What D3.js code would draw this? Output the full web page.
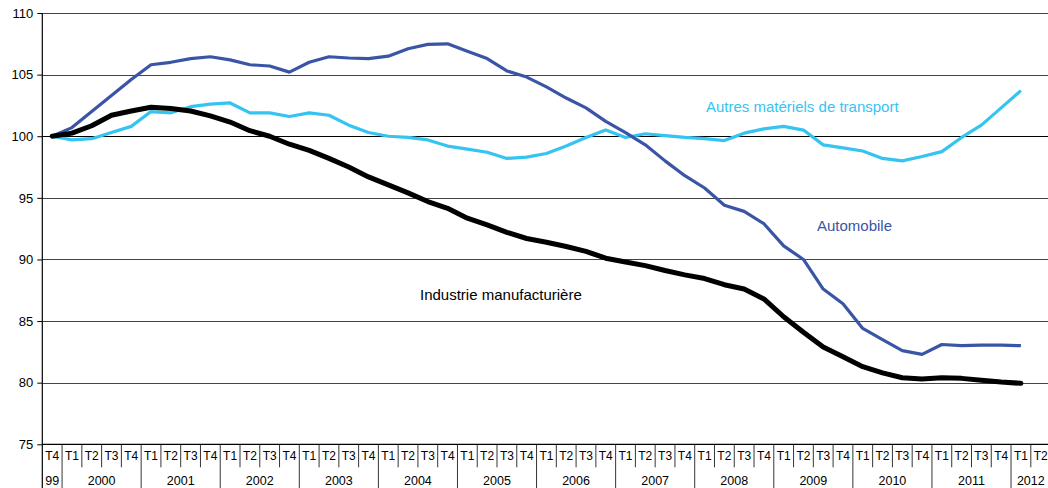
<!doctype html>
<html lang="fr">

<head>
  <meta charset="UTF-8">
  <title>Production - industrie manufacturière, automobile, autres matériels de transport</title>
  <style type="text/css">
    body { margin: 0; background: #fff; }
    text { font-family: "Liberation Sans", Arial, Helvetica, sans-serif; }
  </style>
  <script src="https://cdn.jsdelivr.net/npm/d3@7/dist/d3.min.js"></script>
</head>

<body>
  <div id="container"></div>
  <script>
    // années de l'axe et trimestres (T4 1999 -> T2 2012)
    var years = ["99", "2000", "2001", "2002", "2003", "2004", "2005", "2006", "2007", "2008", "2009", "2010", "2011", "2012"];
    var yearQuarters = [["T4"], ["T1", "T2", "T3", "T4"], ["T1", "T2", "T3", "T4"], ["T1", "T2", "T3", "T4"],
      ["T1", "T2", "T3", "T4"], ["T1", "T2", "T3", "T4"], ["T1", "T2", "T3", "T4"], ["T1", "T2", "T3", "T4"],
      ["T1", "T2", "T3", "T4"], ["T1", "T2", "T3", "T4"], ["T1", "T2", "T3", "T4"], ["T1", "T2", "T3", "T4"],
      ["T1", "T2", "T3", "T4"], ["T1", "T2"]];
    var yTicks = [75, 80, 85, 90, 95, 100, 105, 110];

    // indices base 100 au T4 1999, du T4 1999 au T1 2012
    var industrie = [100, 100.25, 100.85, 101.7, 102.05, 102.35, 102.25, 102.05, 101.65, 101.15,
      100.45, 100.0, 99.35, 98.85, 98.2, 97.5, 96.7, 96.05, 95.4, 94.7,
      94.15, 93.35, 92.8, 92.2, 91.7, 91.4, 91.05, 90.65, 90.1, 89.8,
      89.5, 89.1, 88.75, 88.45, 87.95, 87.6, 86.8, 85.35, 84.1, 82.9,
      82.1, 81.3, 80.8, 80.4, 80.3, 80.4, 80.35, 80.2, 80.05, 79.95];
    var automobile = [100, 100.7, 102.0, 103.3, 104.6, 105.8, 106.0, 106.3, 106.45, 106.2,
      105.8, 105.7, 105.2, 106.0, 106.45, 106.35, 106.3, 106.5, 107.1, 107.45,
      107.5, 106.9, 106.3, 105.3, 104.8, 104.0, 103.1, 102.3, 101.2, 100.3,
      99.3, 98.0, 96.8, 95.8, 94.4, 93.9, 92.9, 91.1, 90.0, 87.6,
      86.4, 84.4, 83.5, 82.6, 82.3, 83.1, 83.0, 83.05, 83.05, 83.0];
    var autres = [100, 99.7, 99.8, 100.3, 100.8, 102.0, 101.9, 102.4, 102.6, 102.7,
      101.9, 101.9, 101.6, 101.9, 101.7, 100.9, 100.3, 100.0, 99.9, 99.7,
      99.2, 98.95, 98.7, 98.2, 98.3, 98.6, 99.2, 99.9, 100.5, 99.9,
      100.2, 100.05, 99.9, 99.8, 99.65, 100.25, 100.6, 100.8, 100.5, 99.3,
      99.05, 98.8, 98.2, 98.0, 98.35, 98.75, 99.9, 100.9, 102.3, 103.7];

    var width = 1048,
      height = 488,
      margin = { left: 42.3, top: 13 },
      cell = 19.77,
      g_height = 431.3;

    // liste plate des trimestres
    var quarters = [];
    years.forEach(function (yr, k) {
      yearQuarters[k].forEach(function (q) {
        quarters.push({ key: q + " " + yr, label: q, year: yr });
      });
    });

    var svg = d3.select('#container').append('svg').attr('width', width).attr('height', height);

    var x = d3.scaleBand()
      .domain(quarters.map(function (d) { return d.key; }))
      .range([margin.left, margin.left + cell * quarters.length])
      .padding(0);
    var y = d3.scaleLinear()
      .domain([75, 110])
      .range([margin.top + g_height, margin.top]);

    function cx(i) { return x(quarters[i].key) + x.bandwidth() / 2; }

    // grille horizontale
    svg.append('g').selectAll('line').data(yTicks.slice(1)).enter().append('line')
      .attr('x1', margin.left).attr('x2', width)
      .attr('y1', function (d) { return Math.round(y(d)) + 0.5; })
      .attr('y2', function (d) { return Math.round(y(d)) + 0.5; })
      .attr('stroke', function (d) { return d === 100 ? '#000' : '#444'; }).attr('stroke-width', 1);

    // axe vertical
    var yAxis = d3.axisLeft(y).tickValues(yTicks).tickSize(5).tickPadding(4);
    var gy = svg.append('g').attr('transform', 'translate(' + margin.left + ',0)').call(yAxis);
    gy.select('.domain').remove();
    gy.selectAll('line').attr('stroke', '#000');
    gy.selectAll('text').attr('font-size', 13).attr('fill', '#000');
    svg.append('line')
      .attr('x1', margin.left).attr('x2', margin.left)
      .attr('y1', margin.top).attr('y2', height)
      .attr('stroke', '#000').attr('stroke-width', 1.2);

    // axe horizontal : trimestres et années
    var yBase = y(75);
    svg.append('line').attr('x1', margin.left).attr('x2', width)
      .attr('y1', yBase).attr('y2', yBase).attr('stroke', '#000').attr('stroke-width', 1.2);

    var gq = svg.append('g');
    gq.selectAll('line').data(quarters).enter().append('line')
      .attr('x1', function (d) { return x(d.key) + x.bandwidth(); })
      .attr('x2', function (d) { return x(d.key) + x.bandwidth(); })
      .attr('y1', yBase)
      .attr('y2', function (d) { return d.label === 'T4' ? height : yBase + 23; })
      .attr('stroke', '#000').attr('stroke-width', 0.8);
    gq.selectAll('text').data(quarters).enter().append('text')
      .attr('x', function (d) { return x(d.key) + x.bandwidth() / 2; })
      .attr('y', yBase + 16)
      .attr('text-anchor', 'middle').attr('font-size', 12)
      .text(function (d) { return d.label; });

    svg.append('g').selectAll('text').data(years).enter().append('text')
      .attr('x', function (yr) {
        var ks = quarters.filter(function (d) { return d.year === yr; });
        var x0 = x(ks[0].key), x1 = x(ks[ks.length - 1].key) + x.bandwidth();
        return (x0 + x1) / 2;
      })
      .attr('y', yBase + 41)
      .attr('text-anchor', 'middle').attr('font-size', 12.5)
      .text(function (yr) { return yr; });

    // courbes
    var line = d3.line()
      .x(function (d, i) { return cx(i); })
      .y(function (d) { return y(d); });

    svg.append('path').attr('d', line(autres))
      .attr('fill', 'none').attr('stroke', '#35c4f1').attr('stroke-width', 3.2).attr('stroke-linejoin', 'round');
    svg.append('path').attr('d', line(automobile))
      .attr('fill', 'none').attr('stroke', '#3a55a5').attr('stroke-width', 3.2).attr('stroke-linejoin', 'round');
    svg.append('path').attr('d', line(industrie))
      .attr('fill', 'none').attr('stroke', '#000').attr('stroke-width', 5).attr('stroke-linejoin', 'round').attr('stroke-linecap', 'round');

    // étiquettes des séries
    svg.append('text').attr('x', 706).attr('y', 112).attr('font-size', 15).attr('fill', '#35c4f1')
      .text('Autres matériels de transport');
    svg.append('text').attr('x', 817).attr('y', 231).attr('font-size', 15).attr('fill', '#3a55a5')
      .text('Automobile');
    svg.append('text').attr('x', 420).attr('y', 300).attr('font-size', 15).attr('fill', '#000')
      .text('Industrie manufacturière');
  </script>
</body>

</html>
